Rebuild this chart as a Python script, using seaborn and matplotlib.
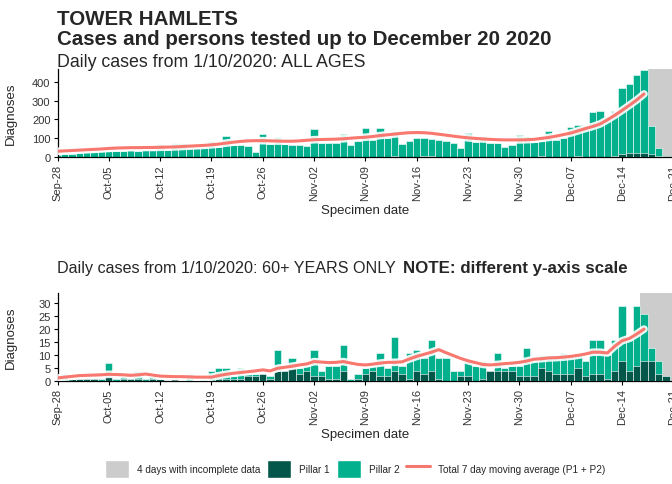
import matplotlib

matplotlib.use("Agg")
import matplotlib.pyplot as plt
import matplotlib.patheffects as pe
from matplotlib.lines import Line2D
from matplotlib.patches import Patch
import numpy as np
import pandas as pd
import seaborn as sns

# Specimen dates, 28 Sep 2020 .. 20 Dec 2020 (84 days)
dates = pd.date_range("2020-09-28", "2020-12-20", freq="D")

tick_labels = ["Sep-28", "Oct-05", "Oct-12", "Oct-19", "Oct-26", "Nov-02", "Nov-09",
               "Nov-16", "Nov-23", "Nov-30", "Dec-07", "Dec-14", "Dec-21"]

# ALL AGES: total cases (P1 + P2) and Pillar 1 cases per day
all_total = [12, 16, 20, 24, 26, 29, 31, 33, 35, 35, 36, 35, 37, 38,
             72, 40, 75, 78, 48, 50, 52, 85, 55, 112, 63, 65, 60, 30,
             123, 68, 106, 68, 66, 66, 58, 148, 76, 76, 78, 123, 65, 86,
             155, 90, 153, 102, 140, 70, 88, 102, 102, 97, 92, 88, 76, 48,
             126, 80, 112, 76, 76, 55, 65, 118, 112, 80, 85, 141, 92, 102,
             159, 169, 168, 242, 245, 220, 247, 367, 388, 436, 464, 164, 49, 6]
all_p1 = [1, 1, 1, 2, 1, 1, 2, 2, 1, 2, 1, 1, 2, 1,
          2, 1, 1, 2, 1, 1, 2, 2, 2, 1, 2, 2, 3, 1,
          3, 2, 4, 3, 4, 3, 3, 3, 2, 2, 3, 4, 2, 3,
          4, 4, 3, 3, 5, 4, 2, 4, 5, 6, 3, 2, 2, 3,
          3, 2, 3, 4, 4, 4, 4, 3, 3, 3, 5, 4, 4, 4,
          4, 5, 3, 4, 4, 3, 5, 20, 22, 25, 24, 18, 5, 2]
all_ma = [32, 34, 36, 38, 40, 42, 44, 47, 49, 50, 51, 51, 52, 52,
          53, 54, 55, 57, 59, 61, 63, 66, 70, 75, 80, 84, 87, 88,
          88, 87, 86, 85, 85, 87, 90, 93, 94, 95, 96, 98, 101, 104,
          106, 110, 115, 119, 123, 127, 130, 131, 130, 127, 122, 117, 112, 107,
          103, 100, 97, 95, 93, 92, 92, 92, 93, 95, 100, 105, 112, 120,
          128, 140, 152, 163, 176, 198, 222, 248, 275, 303, 335]

# 60+ YEARS ONLY
old_total = [1, 3, 1, 1, 1, 1, 1, 7, 1, 2, 1, 4, 1, 2,
             1, 0, 1, 0, 3, 0, 1, 4, 5, 5, 2, 5, 3, 3,
             3, 2, 12, 4, 9, 5, 6, 12, 4, 6, 6, 14, 1, 3,
             5, 6, 11, 5, 17, 6, 11, 12, 9, 16, 9, 9, 4, 4,
             8, 6, 8, 4, 11, 5, 6, 6, 13, 8, 10, 10, 10, 11,
             10, 10, 8, 16, 16, 10, 16, 29, 16, 29, 26, 13, 8, 2]
old_p1 = [0, 0, 1, 1, 1, 1, 0, 2, 0, 1, 1, 1, 0, 1,
          1, 0, 1, 0, 0, 0, 0, 0, 1, 1, 1, 1, 2, 2,
          3, 1, 4, 4, 5, 3, 4, 2, 2, 1, 1, 4, 0, 1,
          3, 4, 2, 2, 4, 3, 1, 4, 3, 4, 1, 0, 0, 2,
          2, 0, 1, 4, 4, 4, 4, 2, 2, 2, 5, 4, 3, 3,
          3, 5, 2, 3, 3, 1, 4, 8, 4, 6, 8, 8, 3, 2]
old_ma = [1.3, 1.6, 1.9, 2.2, 2.3, 2.4, 2.5, 2.7, 2.6, 2.5, 2.3, 2.5, 2.8, 2.4,
          2.0, 1.9, 1.8, 1.8, 1.7, 1.6, 1.6, 1.6, 2.2, 2.7, 3.1, 3.4, 3.7, 4.0,
          4.4, 4.0, 5.0, 5.4, 5.8, 6.3, 6.7, 7.6, 7.4, 7.2, 7.3, 7.6, 7.0, 6.5,
          6.3, 6.6, 7.0, 7.3, 7.3, 7.5, 8.6, 9.6, 10.4, 11.2, 12.2, 11.0, 9.9, 8.8,
          7.9, 7.2, 6.5, 6.3, 6.5, 6.8, 7.0, 7.3, 7.8, 8.5, 8.7, 9.0, 9.1, 9.3,
          9.6, 10.0, 10.5, 11.2, 11.2, 10.9, 13.5, 15.6, 16.5, 18.2, 20.1]

P1_COLOR = "#03574A"
P2_COLOR = "#02B08E"
MA_COLOR = "#F8776E"
GREY = "#CCCCCC"

sns.set_theme(style="ticks")
plt.rcParams["font.family"] = ["Liberation Sans", "DejaVu Sans"]

W, H = 672, 485
fig = plt.figure(figsize=(W / 100, H / 100), dpi=100)


def px_axes(left, top, right, bottom):
    return fig.add_axes([left / W, 1 - bottom / H, (right - left) / W, (bottom - top) / H])


def draw_panel(ax, total, p1, ma, ymax, yticks, grey_start):
    days = np.arange(len(total))
    ax.axvspan(grey_start, 85, color=GREY, lw=0, zorder=0)
    sns.barplot(x=days, y=total, color=P2_COLOR, width=1, native_scale=True,
                edgecolor="white", linewidth=0.4, errorbar=None, saturation=1,
                ax=ax, zorder=2)
    sns.barplot(x=days, y=p1, color=P1_COLOR, width=1, native_scale=True,
                edgecolor="white", linewidth=0.4, errorbar=None, saturation=1,
                ax=ax, zorder=3)
    sns.lineplot(x=np.arange(len(ma)), y=ma, color=MA_COLOR, lw=2.2, ax=ax, zorder=4)
    ax.lines[-1].set_path_effects([pe.Stroke(linewidth=5.5, foreground="white", alpha=0.9),
                                   pe.Normal()])
    ax.set_xlim(0, 84.5)
    ax.set_ylim(0, ymax)
    ax.set_yticks(yticks)
    ax.set_xticks(np.arange(0, 85, 7))
    ax.set_xticklabels(tick_labels, rotation=90)
    ax.tick_params(labelsize=8, length=3, width=0.8, colors="black", labelcolor="#333333", pad=2)
    for s in ("top", "right"):
        ax.spines[s].set_visible(False)
    for s in ("left", "bottom"):
        ax.spines[s].set_linewidth(0.9)
        ax.spines[s].set_color("black")
    ax.set_ylabel("Diagnoses", fontsize=9.5)
    ax.set_xlabel("Specimen date", fontsize=9.5)
    ax.yaxis.set_label_coords(-0.065, 0.5)
    ax.xaxis.set_label_coords(0.496, -0.53)


ax1 = px_axes(57.5, 70, 677, 158.3)
draw_panel(ax1, all_total, all_p1, all_ma, 467, [0, 100, 200, 300, 400], 80.5)

ax2 = px_axes(57.5, 294, 677, 382.3)
draw_panel(ax2, old_total, old_p1, old_ma, 34, [0, 5, 10, 15, 20, 25, 30], 79.5)

fig.text(57 / W, 1 - 25 / H, "TOWER HAMLETS", fontsize=14.8, fontweight="bold", va="baseline")
fig.text(57 / W, 1 - 45 / H, "Cases and persons tested up to December 20 2020",
         fontsize=14.8, fontweight="bold", va="baseline")
fig.text(57 / W, 1 - 67 / H, "Daily cases from 1/10/2020: ALL AGES", fontsize=12.8, va="baseline")
fig.text(57 / W, 1 - 273 / H, "Daily cases from 1/10/2020: 60+ YEARS ONLY", fontsize=11.6, va="baseline")
fig.text(403 / W, 1 - 273 / H, "NOTE: different y-axis scale", fontsize=12.2,
         fontweight="bold", va="baseline")

handles = [
    Patch(facecolor=GREY, edgecolor="white", label="4 days with incomplete data"),
    Patch(facecolor=P1_COLOR, edgecolor="white", label="Pillar 1"),
    Patch(facecolor=P2_COLOR, edgecolor="white", label="Pillar 2"),
    Line2D([0], [0], color=MA_COLOR, lw=2.2, label="Total 7 day moving average (P1 + P2)"),
]
fig.legend(handles=handles, loc="center", bbox_to_anchor=(355 / W, 1 - 470 / H), ncol=4,
           frameon=False, fontsize=7.2, handlelength=2.4, handleheight=2.4,
           columnspacing=0.7, handletextpad=0.8)

fig.savefig("out.png", dpi=100)
